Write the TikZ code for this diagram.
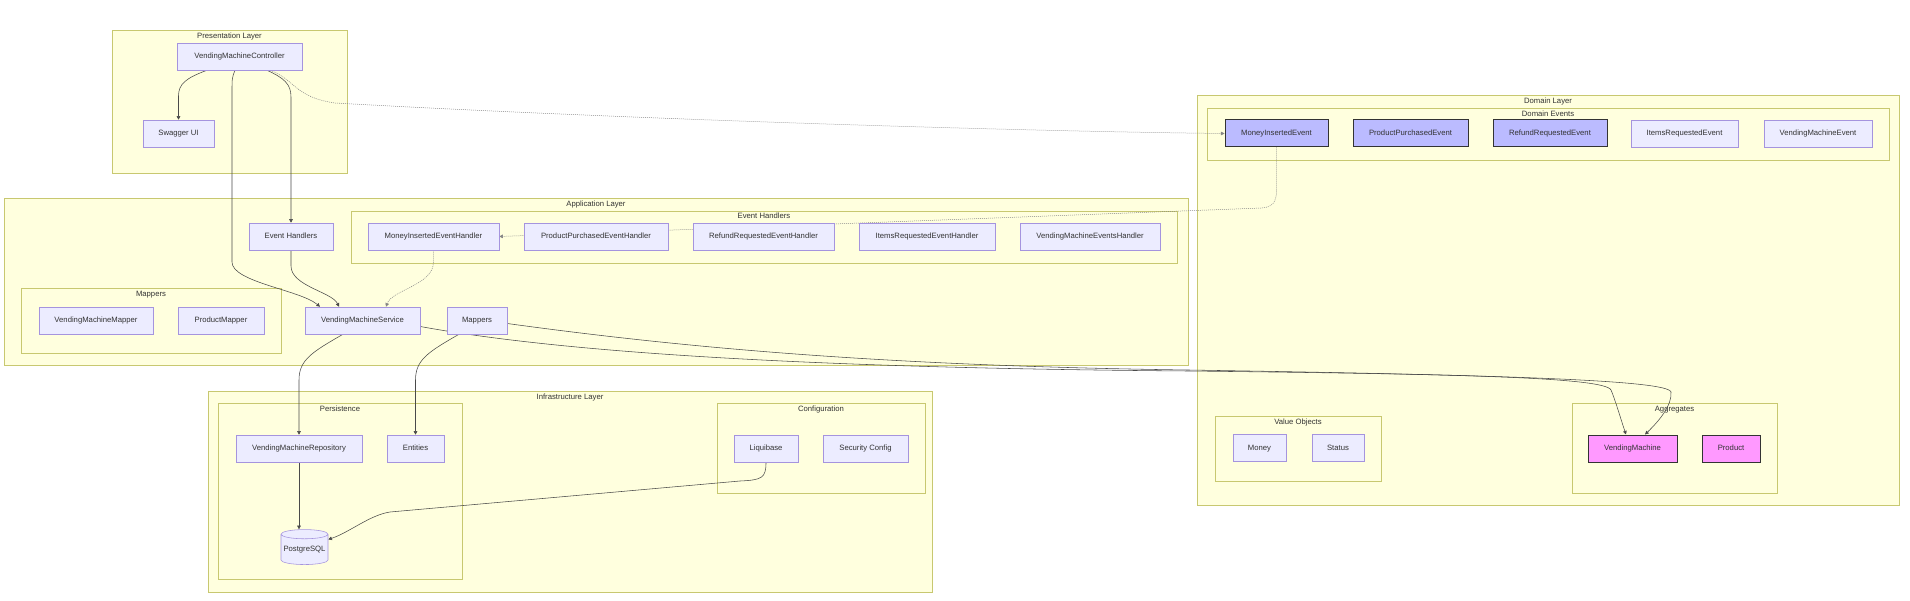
\documentclass[tikz,border=0pt]{standalone}
\usepackage{fontspec}
\setmainfont{Liberation Sans}
\usetikzlibrary{shapes.geometric,arrows.meta}
\definecolor{clfill}{HTML}{FFFFDE}
\definecolor{clline}{HTML}{C8C870}
\definecolor{ndfill}{HTML}{ECECFF}
\definecolor{ndline}{HTML}{A594DE}
\definecolor{txt}{HTML}{333333}
\definecolor{edge}{HTML}{4A4A4A}
\definecolor{evfill}{HTML}{BBBBFF}
\definecolor{agfill}{HTML}{FF99FF}
\pgfdeclarelayer{bg}
\pgfdeclarelayer{edges}
\pgfsetlayers{bg,edges,main}
\tikzset{
  cluster/.style={draw=clline, fill=clfill, line width=0.6pt, rectangle, inner sep=0pt},
  clabel/.style={text=txt, font=\fontsize{7.7}{9}\selectfont, inner sep=0pt, text height=5.6pt, text depth=1.6pt},
  box/.style={draw=ndline, fill=ndfill, line width=0.55pt, text=txt, font=\fontsize{7.7}{9}\selectfont, minimum height=27pt, inner sep=0pt, text height=5.6pt, text depth=1.6pt},
  evbox/.style={box, draw=txt, fill=evfill, line width=1pt},
  agbox/.style={box, draw=txt, fill=agfill, line width=1pt},
  link/.style={draw=edge, line width=0.55pt, -{Triangle[length=3.6pt,width=3.6pt]}},
  dotlink/.style={link, draw=txt!60, line width=0.5pt, dash pattern=on 1pt off 1pt},
}
\begin{document}
\begin{tikzpicture}[x=1pt,y=-1pt]
\useasboundingbox (0,0) rectangle (1910,601);
% clusters
\begin{pgfonlayer}{bg}
\node[cluster, minimum width=235pt, minimum height=143pt] (presentation) at (229.5,101.5) {};
\node[clabel] (presentationLbl) at (229.5,36.5) {Presentation Layer};
\node[cluster, minimum width=1184pt, minimum height=167pt] (application) at (596,281.5) {};
\node[clabel] (applicationLbl) at (596,204.5) {Application Layer};
\node[cluster, minimum width=826pt, minimum height=52pt] (ehgroup) at (764,237) {};
\node[clabel] (ehgroupLbl) at (764,217) {Event Handlers};
\node[cluster, minimum width=260pt, minimum height=65pt] (mapgroup) at (151,320.5) {};
\node[clabel] (mapgroupLbl) at (151,294.5) {Mappers};
\node[cluster, minimum width=724pt, minimum height=201pt] (infra) at (570,491.5) {};
\node[clabel] (infraLbl) at (570,397.5) {Infrastructure Layer};
\node[cluster, minimum width=244pt, minimum height=176pt] (persistence) at (340,491) {};
\node[clabel] (persistenceLbl) at (340,409.5) {Persistence};
\node[cluster, minimum width=208pt, minimum height=90pt] (configuration) at (821,448) {};
\node[clabel] (configurationLbl) at (821,409.5) {Configuration};
\node[cluster, minimum width=702pt, minimum height=410pt] (domain) at (1548,300) {};
\node[clabel] (domainLbl) at (1548,101.5) {Domain Layer};
\node[cluster, minimum width=682pt, minimum height=52pt] (domevents) at (1548,134) {};
\node[clabel] (domeventsLbl) at (1548,114.5) {Domain Events};
\node[cluster, minimum width=166pt, minimum height=65pt] (valueobj) at (1298,448.5) {};
\node[clabel] (valueobjLbl) at (1298,422.5) {Value Objects};
\node[cluster, minimum width=205pt, minimum height=90pt] (aggregates) at (1674.5,448) {};
\node[clabel] (aggregatesLbl) at (1674.5,409.5) {Aggregates};
\end{pgfonlayer}
% nodes
\node[box, minimum width=125pt] (vmc) at (239.5,56.5) {VendingMachineController};
\node[box, minimum width=71pt] (swagger) at (178.5,133.5) {Swagger UI};
\node[box, minimum width=84pt] (eh) at (291,236.5) {Event Handlers};
\node[box, minimum width=131pt] (mieh) at (433.5,236.5) {MoneyInsertedEventHandler};
\node[box, minimum width=144pt] (ppeh) at (596,236.5) {ProductPurchasedEventHandler};
\node[box, minimum width=141pt] (rreh) at (763.5,236.5) {RefundRequestedEventHandler};
\node[box, minimum width=136pt] (ireh) at (927,236.5) {ItemsRequestedEventHandler};
\node[box, minimum width=140pt] (vmeh) at (1090,236.5) {VendingMachineEventsHandler};
\node[box, minimum width=114pt] (vmm) at (96,320.5) {VendingMachineMapper};
\node[box, minimum width=86pt] (pm) at (221,320.5) {ProductMapper};
\node[box, minimum width=115pt] (vms) at (362.5,320.5) {VendingMachineService};
\node[box, minimum width=60pt] (mappersN) at (477,320.5) {Mappers};
\node[box, minimum width=126pt] (vmr) at (299,448.5) {VendingMachineRepository};
\node[box, minimum width=57pt] (entities) at (415.5,448.5) {Entities};
\node[box, cylinder, shape border rotate=90, aspect=0.22, minimum width=47pt, minimum height=35pt] (pg) at (304.5,549.5) {PostgreSQL};
\node[box, minimum width=64pt] (liq) at (766,448.5) {Liquibase};
\node[box, minimum width=85pt] (sec) at (865.5,448.5) {Security Config};
\node[evbox, minimum width=103pt] (mie) at (1276.5,133.5) {MoneyInsertedEvent};
\node[evbox, minimum width=115pt] (ppe) at (1410.5,133.5) {ProductPurchasedEvent};
\node[evbox, minimum width=114pt] (rre) at (1550,133.5) {RefundRequestedEvent};
\node[box, minimum width=107pt] (ire) at (1684.5,133.5) {ItemsRequestedEvent};
\node[box, minimum width=108pt] (vme) at (1818,133.5) {VendingMachineEvent};
\node[box, minimum width=53pt] (money) at (1259.5,448) {Money};
\node[box, minimum width=52pt] (status) at (1338,448) {Status};
\node[agbox, minimum width=89pt] (vm) at (1632.5,448.5) {VendingMachine};
\node[agbox, minimum width=58pt] (prod) at (1731,448.5) {Product};
% edges
\begin{pgfonlayer}{edges}
\draw[link] ([xshift=-32.5pt]vmc.south) .. controls (186,78) and (178.5,84) .. (178.5,96) -- (swagger.north);
\draw[link] ([xshift=27.5pt]vmc.south) .. controls (284,78) and (291,84) .. (291,97) -- (eh.north);
\draw[link] ([xshift=-4.5pt]vmc.south) .. controls (232,78) .. (232,92) -- (232,262) .. controls (232,282) and (300,290) .. ([xshift=-42.5pt]vms.north);
\draw[dotlink] ([xshift=30.5pt]vmc.south) .. controls (296,80) and (294,97) .. (335,103) .. controls (600,118) and (1000,131) .. (mie.west);
\draw[link] (eh.south) -- (291,266) .. controls (291,286) and (332,292) .. ([xshift=-23.5pt]vms.north);
\draw[dotlink] (mieh.south) -- (433.5,262) .. controls (433.5,285) and (392,290) .. ([xshift=23.5pt]vms.north);
\draw[dotlink] (mie.south) -- (1276.5,190) .. controls (1276.5,203) and (1272,207) .. (1262,208) -- (mieh.east);
\draw[link] ([xshift=-19.5pt]vms.south) .. controls (312,352) and (299,360) .. (299,380) -- (vmr.north);
\draw[link] ([xshift=-18pt]mappersN.south) .. controls (428,352) and (415.5,360) .. (415.5,380) -- (entities.north);
\draw[link] (vmr.south) -- (vmr.south |- pg.north);
\draw[link] (liq.south) .. controls (766,478) and (762,480) .. (740,481) -- (390,512) .. controls (370,515) and (350,532) .. ([yshift=10pt]pg.east);
\draw[link] ([yshift=-6pt]vms.east) .. controls (560,352) and (800,368) .. (1188,371) .. controls (1450,374) and (1605,377) .. (1611,390) .. controls (1616,402) and (1621,420) .. ([xshift=-6.5pt]vm.north);
\draw[link] ([yshift=-3pt]mappersN.east) .. controls (700,350) and (900,366) .. (1188,370) .. controls (1500,375) and (1668,380) .. (1671,392) .. controls (1672,405) and (1660,420) .. ([xshift=12.5pt]vm.north);
\end{pgfonlayer}
\end{tikzpicture}
\end{document}
